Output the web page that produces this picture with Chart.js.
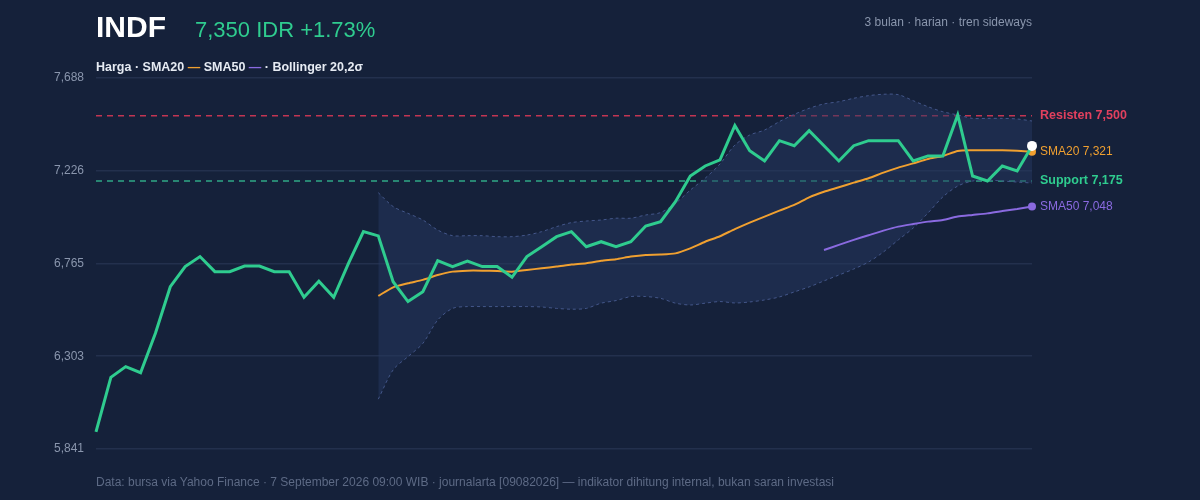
<!DOCTYPE html>
<html>
<head>
<meta charset="utf-8">
<script src="https://cdn.jsdelivr.net/npm/chart.js@4/dist/chart.umd.min.js"></script>
<style>
  body { margin: 0; background: #15213a; font-family: "Liberation Sans", Arial, sans-serif; }
  #wrap { position: relative; width: 1200px; height: 500px; }
  canvas { position: absolute; left: 0; top: 0; }
  .t { position: absolute; white-space: nowrap; }
</style>
</head>
<body>
<div id="wrap">
  <canvas id="c" width="1200" height="500"></canvas>
  <div class="t" style="left:96px;top:10px;font-size:30px;font-weight:bold;color:#fff;">INDF</div>
  <div class="t" style="left:195px;top:17px;font-size:22px;color:#2fcc8f;">7,350 IDR +1.73%</div>
  <div class="t" style="right:168px;top:15px;font-size:12px;color:#8a96ad;">3 bulan · harian · tren sideways</div>
  <div class="t" style="left:96px;top:60px;font-size:12.5px;font-weight:bold;color:#e6ebf3;">Harga · SMA20 <span style="color:#f0a030">—</span> SMA50 <span style="color:#8a6ae0">—</span> · Bollinger 20,2σ</div>
  <div class="t" style="left:96px;top:475px;font-size:12px;color:#5d6a85;">Data: bursa via Yahoo Finance · 7 September 2026 09:00 WIB · journalarta [09082026] — indikator dihitung internal, bukan saran investasi</div>
</div>
<script>
const yTicks = [5841, 6303, 6765, 7226, 7688];
const resistance = 7500;
const support = 7175;

const price = [5926, 6198, 6251, 6221, 6417, 6649, 6749, 6799, 6724, 6724, 6752, 6752, 6724, 6724, 6596, 6676,
  6596, 6766, 6923, 6902, 6674, 6575, 6624, 6779, 6749, 6776, 6749, 6749, 6696, 6799, 6848, 6898,
  6923, 6848, 6873, 6848, 6873, 6951, 6973, 7072, 7200, 7250, 7280, 7451, 7326, 7275, 7376, 7351,
  7426, 7351, 7275, 7351, 7376, 7376, 7376, 7275, 7300, 7300, 7504, 7200, 7175, 7250, 7225, 7350];

const N = price.length;
const pad = (k, arr) => Array(k).fill(null).concat(arr);

const sma20 = pad(19, [6603, 6646, 6666, 6683, 6707, 6724, 6729, 6729, 6727, 6724, 6732, 6741, 6749, 6759, 6766, 6778,
  6786, 6799, 6807, 6809, 6815, 6840, 6873, 6900, 6936, 6968, 6998, 7028, 7056, 7094, 7122, 7144,
  7167, 7189, 7217, 7242, 7263, 7285, 7300, 7325, 7328, 7328, 7328, 7326, 7321]);

const sma50 = pad(49, [6832, 6857, 6882, 6905, 6928, 6948, 6961, 6973, 6981, 6998, 7006, 7014, 7026, 7036, 7048]);

const bbUpper = pad(19, [7117, 7048, 7014, 6981, 6931, 6903, 6903, 6903, 6898, 6898, 6906, 6923, 6948, 6968, 6976, 6981,
  6990, 6990, 7006, 7018, 7064, 7130, 7189, 7260, 7354, 7404, 7429, 7471, 7507, 7537, 7559, 7570,
  7587, 7600, 7607, 7605, 7575, 7545, 7520, 7504, 7487, 7487, 7487, 7484, 7474]);

const bbLower = pad(19, [6089, 6235, 6301, 6367, 6483, 6541, 6550, 6550, 6550, 6550, 6550, 6548, 6541, 6537, 6541, 6567,
  6580, 6600, 6600, 6591, 6567, 6558, 6567, 6575, 6568, 6573, 6583, 6598, 6623, 6648, 6678, 6707,
  6737, 6772, 6822, 6882, 6941, 7016, 7096, 7150, 7175, 7180, 7175, 7170, 7165]);

const labels = price.map((_, i) => i);

const overlay = {
  id: 'overlay',
  beforeDatasetsDraw(chart) {
    const { ctx, chartArea, scales } = chart;
    ctx.save();
    ctx.setLineDash([6, 5]);
    ctx.lineWidth = 1.5;
    [[resistance, '#c23552'], [support, '#2fa886']].forEach(([v, col]) => {
      const y = scales.y.getPixelForValue(v);
      ctx.strokeStyle = col;
      ctx.beginPath();
      ctx.moveTo(chartArea.left, y);
      ctx.lineTo(chartArea.right, y);
      ctx.stroke();
    });
    ctx.restore();
  },
  afterDatasetsDraw(chart) {
    const { ctx, chartArea, scales } = chart;
    const x = chartArea.right + 8;
    ctx.save();
    ctx.textBaseline = 'middle';
    const items = [
      [resistance, 'Resisten 7,500', '#e2405e', 'bold 12.5px "Liberation Sans"'],
      [sma20[N - 1], 'SMA20 7,321', '#f0a030', '12px "Liberation Sans"'],
      [support, 'Support 7,175', '#2fcc8f', 'bold 12.5px "Liberation Sans"'],
      [sma50[N - 1], 'SMA50 7,048', '#8a6ae0', '12px "Liberation Sans"']
    ];
    items.forEach(([v, txt, col, font]) => {
      ctx.font = font;
      ctx.fillStyle = col;
      ctx.fillText(txt, x, scales.y.getPixelForValue(v));
    });
    ctx.restore();
  }
};

const endOnly = (r) => (c) => c.dataIndex === N - 1 ? r : 0;

new Chart(document.getElementById('c'), {
  type: 'line',
  data: {
    labels,
    datasets: [
      { data: bbUpper, order: 5, borderColor: '#44578a', borderWidth: 1, borderDash: [3, 3], pointRadius: 0, fill: '+1', backgroundColor: 'rgba(38,56,95,0.5)', tension: 0.3 },
      { data: bbLower, order: 4, borderColor: '#44578a', borderWidth: 1, borderDash: [3, 3], pointRadius: 0, fill: false, tension: 0.3 },
      { data: sma50, order: 3, borderColor: '#8a6ae0', borderWidth: 2, pointRadius: endOnly(4), pointBackgroundColor: '#8a6ae0', pointBorderWidth: 0, tension: 0.2 },
      { data: sma20, order: 2, borderColor: '#f0a030', borderWidth: 2, pointRadius: endOnly(4), pointBackgroundColor: '#f0a030', pointBorderWidth: 0, tension: 0.2 },
      { data: price, order: 1, borderColor: '#2fcc8f', borderWidth: 3, pointRadius: endOnly(5), pointBackgroundColor: '#ffffff', pointBorderWidth: 0, tension: 0 }
    ]
  },
  options: {
    responsive: false,
    animation: false,
    layout: { padding: { top: 78, bottom: 51, right: 168, left: 0 } },
    plugins: { legend: { display: false }, tooltip: { enabled: false } },
    scales: {
      x: { display: false, offset: false },
      y: {
        min: 5841, max: 7688,
        afterBuildTicks(s) { s.ticks = yTicks.map(v => ({ value: v })); },
        afterFit(s) { s.width = 96; },
        border: { display: false },
        grid: { color: '#23304d', lineWidth: 1.5, drawTicks: false },
        ticks: { color: '#8a96ad', font: { size: 12, family: 'Liberation Sans' }, padding: 12, callback: v => v.toLocaleString('en-US') }
      }
    }
  },
  plugins: [overlay]
});
</script>
</body>
</html>
